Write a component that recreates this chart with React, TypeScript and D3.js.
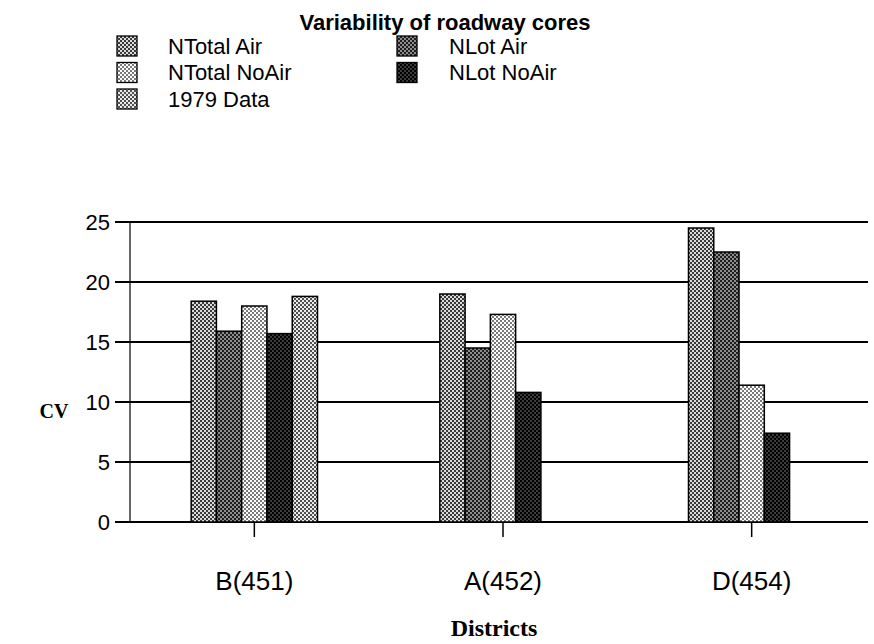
import React from "react";
import * as d3 from "d3";

const categories = ["B(451)", "A(452)", "D(454)"];
const seriesNames = ["NTotal Air", "NLot Air", "NTotal NoAir", "NLot NoAir", "1979 Data"];
const nTotalAir = [18.4, 19.0, 24.5];
const nLotAir = [15.9, 14.5, 22.5];
const nTotalNoAir = [18.0, 17.3, 11.4];
const nLotNoAir = [15.7, 10.8, 7.4];
const data1979: (number | null)[] = [18.8, null, null];
const yTicks = [0, 5, 10, 15, 20, 25];

const seriesValues: (number | null)[][] = [nTotalAir, nLotAir, nTotalNoAir, nLotNoAir, data1979];
const patternColors: [string, string][] = [
  ["#3a3a3a", "#dadada"],
  ["#1e1e1e", "#8c8c8c"],
  ["#7a7a7a", "#ffffff"],
  ["#000000", "#3c3c3c"],
  ["#505050", "#eaeaea"],
];
const legendOrder = [
  { s: 0, col: 0, row: 0 },
  { s: 2, col: 0, row: 1 },
  { s: 4, col: 0, row: 2 },
  { s: 1, col: 1, row: 0 },
  { s: 3, col: 1, row: 1 },
];

export default function App() {
  const W = 874, H = 644;
  const left = 130, right = 876, top = 222, bottom = 522;
  const x0 = d3.scaleBand<string>().domain(categories).range([left, right]).padding(0);
  const x1 = d3
    .scaleBand<string>()
    .domain(seriesNames)
    .range([0, x0.bandwidth()])
    .paddingInner(0)
    .paddingOuter(2.42);
  const y = d3.scaleLinear().domain([0, 25]).range([bottom, top]);
  const sans = "'Liberation Sans', Arial, sans-serif";
  const serif = "'Liberation Serif', 'Times New Roman', serif";

  return (
    <svg width={W} height={H} style={{ position: "absolute", left: 0, top: 0, background: "#fff" }}>
      <defs>
        {patternColors.map(([a, b], i) => (
          <pattern key={i} id={`p${i}`} width={4} height={4} patternUnits="userSpaceOnUse">
            <rect width={4} height={4} fill={b} />
            <rect x={0} y={0} width={2} height={2} fill={a} />
            <rect x={2} y={2} width={2} height={2} fill={a} />
          </pattern>
        ))}
      </defs>
      <rect width={W} height={H} fill="#fff" />
      <text x={445} y={30} textAnchor="middle" fontFamily={sans} fontWeight="bold" fontSize={22}>
        Variability of roadway cores
      </text>
      {legendOrder.map(({ s, col, row }) => {
        const sx = col === 0 ? 117 : 397;
        const tx = col === 0 ? 168 : 449;
        const cy = 46 + row * 26.5;
        return (
          <g key={s}>
            <rect x={sx} y={cy - 10} width={20} height={20} fill={`url(#p${s})`} stroke="#000" strokeWidth={1.3} />
            <text x={tx} y={cy + 7.5} fontFamily={sans} fontSize={22}>
              {seriesNames[s]}
            </text>
          </g>
        );
      })}
      {yTicks.map((t) => (
        <g key={t}>
          <line x1={115} x2={868} y1={y(t)} y2={y(t)} stroke="#000" strokeWidth={1.8} />
          <text x={110} y={y(t) + 8} textAnchor="end" fontFamily={sans} fontSize={22}>
            {t}
          </text>
        </g>
      ))}
      <line x1={left} x2={left} y1={top} y2={bottom} stroke="#000" strokeWidth={1.2} />
      {categories.map((c, ci) => (
        <g key={c}>
          {seriesNames.map((s, si) => {
            const v = seriesValues[si][ci];
            if (v == null) return null;
            const bx = (x0(c) as number) + (x1(s) as number);
            return (
              <rect
                key={s}
                x={bx}
                y={y(v)}
                width={x1.bandwidth()}
                height={y(0) - y(v)}
                fill={`url(#p${si})`}
                stroke="#000"
                strokeWidth={1.5}
              />
            );
          })}
          <line
            x1={(x0(c) as number) + x0.bandwidth() / 2}
            x2={(x0(c) as number) + x0.bandwidth() / 2}
            y1={bottom}
            y2={bottom + 15}
            stroke="#000"
            strokeWidth={1.5}
          />
          <text
            x={(x0(c) as number) + x0.bandwidth() / 2}
            y={590}
            textAnchor="middle"
            fontFamily={sans}
            fontSize={26}
          >
            {c}
          </text>
        </g>
      ))}
      <text x={54} y={418} textAnchor="middle" fontFamily={serif} fontWeight="bold" fontSize={20}>
        CV
      </text>
      <text x={494} y={636} textAnchor="middle" fontFamily={serif} fontWeight="bold" fontSize={24}>
        Districts
      </text>
    </svg>
  );
}
